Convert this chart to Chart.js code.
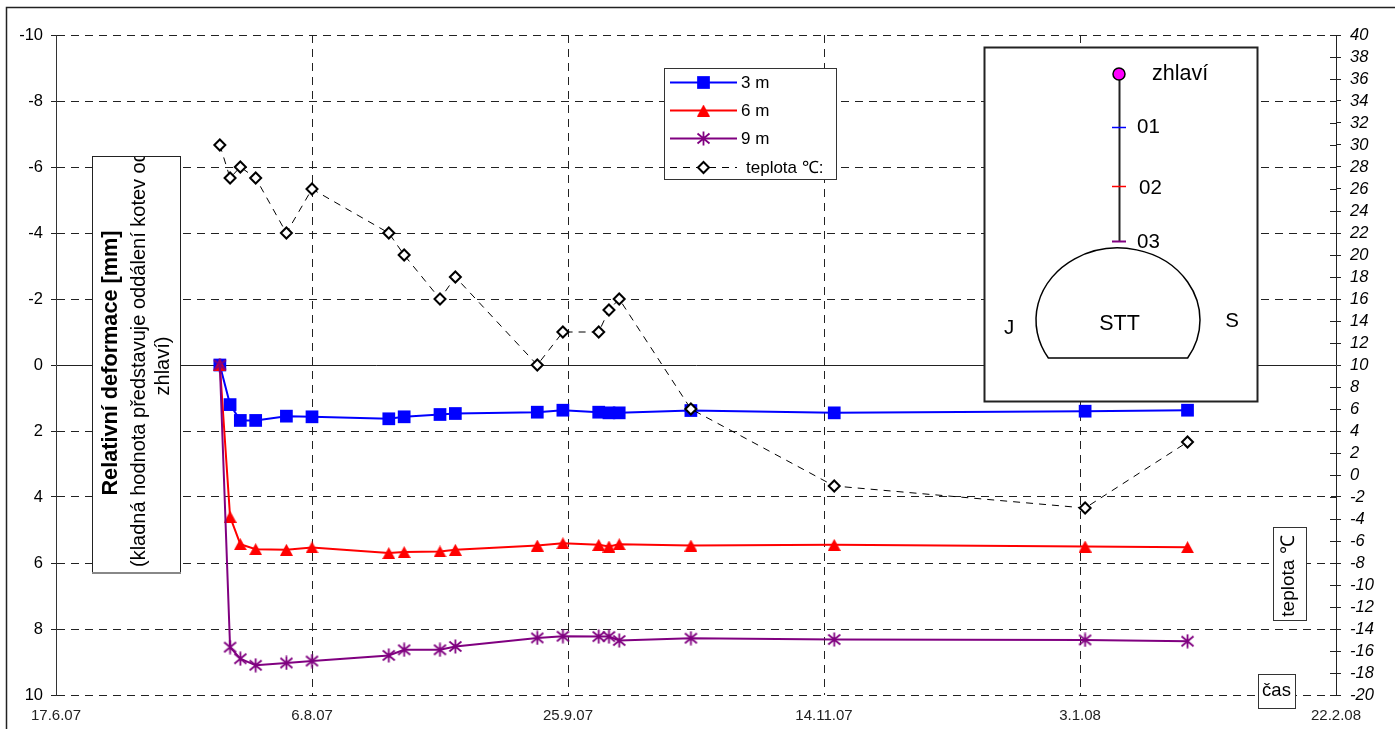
<!DOCTYPE html>
<html>
<head>
<meta charset="utf-8">
<title>Relativní deformace</title>
<script src="https://cdn.jsdelivr.net/npm/chart.js@4/dist/chart.umd.js"></script>
<style>
  html, body { margin: 0; padding: 0; background: #fff; overflow: hidden; }
  canvas { display: block; }
</style>
</head>
<body>
<canvas id="myChart" width="1395" height="729"></canvas>
<script>
const FONT = '"Liberation Sans", Arial, sans-serif';

// days after 17.6.07
const days = [32, 34, 36, 39, 45, 50, 65, 68, 75, 78, 94, 99, 106, 108, 110, 124, 152, 201, 221];
const xTickLabels = ["17.6.07", "6.8.07", "25.9.07", "14.11.07", "3.1.08", "22.2.08"];

const seriesNames = ["3 m", "6 m", "9 m", "teplota ℃:"];
const values3m = [0, 1.2, 1.68, 1.68, 1.55, 1.57, 1.63, 1.57, 1.5, 1.47, 1.43, 1.37, 1.43, 1.45, 1.45, 1.38, 1.45, 1.4, 1.37];
const values6m = [0, 4.6, 5.43, 5.58, 5.6, 5.53, 5.7, 5.67, 5.65, 5.6, 5.47, 5.4, 5.45, 5.5, 5.43, 5.47, 5.45, 5.5, 5.52];
const values9m = [0, 8.55, 8.9, 9.1, 9.03, 8.97, 8.8, 8.63, 8.63, 8.53, 8.27, 8.22, 8.23, 8.23, 8.35, 8.28, 8.32, 8.33, 8.37];
const teplota = [30, 27, 28, 27, 22, 26, 22, 20, 16, 18, 10, 13, 13, 15, 16, 6, -1, -3, 3];

const toPoints = (ys) => ys.map((y, i) => ({ x: days[i], y: y }));

// excel style asterisk, chart.js "star" has too many arms
function asteriskMarker(color) {
  const c = document.createElement("canvas");
  c.width = 15;
  c.height = 15;
  const g = c.getContext("2d");
  g.strokeStyle = color;
  g.lineWidth = 1.8;
  g.beginPath();
  g.moveTo(7.5, 0.5); g.lineTo(7.5, 14.5);
  g.moveTo(1.5, 2.5); g.lineTo(13.5, 12.5);
  g.moveTo(13.5, 2.5); g.lineTo(1.5, 12.5);
  g.stroke();
  return c;
}

// chart.js triangle sits too high on the point, this one is centred
function triangleMarker(color) {
  const c = document.createElement("canvas");
  c.width = 13;
  c.height = 12;
  const g = c.getContext("2d");
  g.fillStyle = color;
  g.beginPath();
  g.moveTo(6.5, 0);
  g.lineTo(13, 12);
  g.lineTo(0, 12);
  g.closePath();
  g.fill();
  return c;
}
const asterisk = asteriskMarker("#800080");
const triangle = triangleMarker("#ff0000");

function box(ctx, x, y, w, h, lw, color) {
  ctx.fillStyle = "#fff";
  ctx.fillRect(x, y, w, h);
  ctx.strokeStyle = color || "#333";
  ctx.lineWidth = lw || 1;
  ctx.strokeRect(x + 0.5, y + 0.5, w, h);
}

function text(ctx, str, x, y, font, align) {
  ctx.fillStyle = "#000";
  ctx.font = font + " " + FONT;
  ctx.textAlign = align || "left";
  ctx.textBaseline = "middle";
  ctx.fillText(str, x, y);
}

function rotatedText(ctx, str, x, y, font, align) {
  ctx.save();
  ctx.translate(x, y);
  ctx.rotate(-Math.PI / 2);
  text(ctx, str, 0, 0, font, align);
  ctx.restore();
}

const annotations = {
  id: "annotations",
  beforeDraw(chart) {
    const ctx = chart.ctx;
    ctx.save();
    ctx.strokeStyle = "#222";
    ctx.lineWidth = 1.5;
    ctx.beginPath();
    ctx.moveTo(6.5, 729);
    ctx.lineTo(6.5, 7.5);
    ctx.lineTo(1395, 7.5);
    ctx.stroke();
    ctx.restore();
  },
  afterDraw(chart) {
    const ctx = chart.ctx;
    ctx.save();

    // inner half of the right axis ticks
    const y1 = chart.scales.y1;
    const right = chart.chartArea.right;
    ctx.strokeStyle = "#222";
    ctx.lineWidth = 1;
    y1.ticks.forEach((t) => {
      const py = Math.round(y1.getPixelForValue(t.value)) + 0.5;
      ctx.beginPath();
      ctx.moveTo(right - 6, py);
      ctx.lineTo(right, py);
      ctx.stroke();
    });

    // legend
    box(ctx, 664, 68, 172, 111, 1, "#333");
    const rows = [82, 110, 138, 167];
    chart.data.datasets.forEach((ds, i) => {
      ctx.save();
      ctx.strokeStyle = ds.borderColor;
      ctx.lineWidth = ds.borderWidth;
      ctx.setLineDash(ds.borderDash || []);
      ctx.beginPath();
      ctx.moveTo(670, rows[i] + 0.5);
      ctx.lineTo(737, rows[i] + 0.5);
      ctx.stroke();
      ctx.restore();
      ctx.save();
      ctx.fillStyle = ds.pointBackgroundColor;
      ctx.strokeStyle = ds.pointBorderColor;
      ctx.lineWidth = ds.pointBorderWidth;
      Chart.helpers.drawPoint(ctx, { pointStyle: ds.pointStyle, radius: ds.pointRadius, borderWidth: ds.pointBorderWidth, rotation: 0 }, 703.5, rows[i] + 0.5);
      ctx.restore();
      text(ctx, seriesNames[i], i === 3 ? 746 : 741, rows[i] + 1, "17px");
    });

    // axis title box, second line runs past the top edge like in the original
    box(ctx, 92, 156, 88, 416, 1, "#222");
    ctx.fillStyle = "#888";
    ctx.fillRect(92, 572, 89, 2);
    rotatedText(ctx, "Relativní deformace [mm]", 111.5, 363, "bold 21.7px", "center");
    ctx.save();
    ctx.beginPath();
    ctx.rect(93, 157, 87, 415);
    ctx.clip();
    rotatedText(ctx, "(kladná hodnota představuje oddálení kotev od", 139, 567, "20px", "left");
    ctx.restore();
    rotatedText(ctx, "zhlaví)", 163, 366, "20px", "center");

    box(ctx, 1273, 527, 33, 93, 1, "#333");
    rotatedText(ctx, "teplota ℃", 1289, 576, "19px", "center");

    box(ctx, 1258, 674, 37, 34, 1, "#333");
    text(ctx, "čas", 1276.5, 691, "18.5px", "center");

    // inset with the tunnel sketch
    box(ctx, 984, 47, 273, 354, 2, "#222");
    ctx.strokeStyle = "#222";
    ctx.lineWidth = 2;
    ctx.beginPath();
    ctx.moveTo(1119.5, 74);
    ctx.lineTo(1119.5, 241);
    ctx.stroke();
    [[127, "#0000ff", 1.5], [186, "#ff0000", 1.5], [241, "#800080", 2]].forEach(([py, color, lw]) => {
      ctx.strokeStyle = color;
      ctx.lineWidth = lw;
      ctx.beginPath();
      ctx.moveTo(1112, py + 0.5);
      ctx.lineTo(1126, py + 0.5);
      ctx.stroke();
    });
    ctx.fillStyle = "#ff00ff";
    ctx.strokeStyle = "#000";
    ctx.lineWidth = 1.5;
    ctx.beginPath();
    ctx.arc(1119, 74, 6, 0, Math.PI * 2);
    ctx.fill();
    ctx.stroke();
    ctx.lineWidth = 1.5;
    ctx.beginPath();
    const a = Math.asin(38 / 72);
    ctx.ellipse(1118, 320, 82, 72, 0, Math.PI - a, a + Math.PI * 2);
    ctx.closePath();
    ctx.stroke();
    text(ctx, "zhlaví", 1152, 74, "21.5px");
    text(ctx, "01", 1137, 127, "20.5px");
    text(ctx, "02", 1139, 188, "20.5px");
    text(ctx, "03", 1137, 242, "20.5px");
    text(ctx, "STT", 1119.5, 324, "21.5px", "center");
    text(ctx, "J", 1009, 328, "20.5px", "center");
    text(ctx, "S", 1232, 321, "20.5px", "center");

    ctx.restore();
  },
};

new Chart(document.getElementById("myChart"), {
  type: "line",
  plugins: [annotations],
  data: {
    datasets: [
      {
        label: seriesNames[0],
        data: toPoints(values3m),
        yAxisID: "y",
        order: 4,
        borderColor: "#0000ff",
        borderWidth: 2,
        tension: 0,
        pointStyle: "rect",
        pointRadius: 9,
        pointBackgroundColor: "#0000ff",
        pointBorderColor: "#0000ff",
        pointBorderWidth: 0,
      },
      {
        label: seriesNames[1],
        data: toPoints(values6m),
        yAxisID: "y",
        order: 3,
        borderColor: "#ff0000",
        borderWidth: 2,
        tension: 0,
        pointStyle: triangle,
        pointRadius: 7,
        pointBackgroundColor: "#ff0000",
        pointBorderColor: "#ff0000",
        pointBorderWidth: 0,
      },
      {
        label: seriesNames[2],
        data: toPoints(values9m),
        yAxisID: "y",
        order: 2,
        borderColor: "#800080",
        borderWidth: 2,
        tension: 0,
        pointStyle: asterisk,
        pointRadius: 7,
        pointBackgroundColor: "#800080",
        pointBorderColor: "#800080",
        pointBorderWidth: 0,
      },
      {
        label: seriesNames[3],
        data: toPoints(teplota),
        yAxisID: "y1",
        order: 1,
        borderColor: "#000",
        borderWidth: 1,
        borderDash: [7, 6],
        tension: 0,
        pointStyle: "rectRot",
        pointRadius: 5.5,
        pointBackgroundColor: "#fff",
        pointBorderColor: "#000",
        pointBorderWidth: 2,
      },
    ],
  },
  options: {
    responsive: false,
    animation: false,
    layout: { padding: { top: 35, left: 0, right: 0, bottom: 0 } },
    plugins: { legend: { display: false }, tooltip: { enabled: false } },
    scales: {
      x: {
        type: "linear",
        min: 0,
        max: 250,
        afterFit: (s) => { s.height = 34; },
        border: { display: false, dash: [8, 6] },
        grid: {
          color: (c) => (c.index === 0 || c.index === 5 ? "transparent" : "#222"),
          drawTicks: false,
          tickLength: 0,
        },
        ticks: {
          stepSize: 50,
          maxRotation: 0,
          autoSkip: false,
          padding: 12,
          color: "#222",
          font: { family: FONT, size: 15 },
          callback: (v, i) => xTickLabels[i],
        },
      },
      y: {
        position: "left",
        reverse: true,
        min: -10,
        max: 10,
        afterFit: (s) => { s.width = 56; },
        border: {
          color: "#333",
          width: 1,
          dash: (c) => (c.tick && c.tick.value === 0 ? [] : [8, 6]),
        },
        grid: { color: "#222", tickLength: 5 },
        ticks: {
          stepSize: 2,
          autoSkip: false,
          padding: 8,
          color: "#000",
          font: { family: FONT, size: 16.5 },
          callback: (v) => String(v),
        },
      },
      y1: {
        position: "right",
        min: -20,
        max: 40,
        afterFit: (s) => { s.width = 59; },
        border: { color: "#222" },
        grid: { drawOnChartArea: false, color: "#222", tickLength: 5 },
        ticks: {
          stepSize: 2,
          autoSkip: false,
          padding: 9,
          color: "#000",
          font: { family: FONT, size: 16.5, style: "italic" },
          callback: (v) => String(v),
        },
      },
    },
  },
});
</script>
</body>
</html>
